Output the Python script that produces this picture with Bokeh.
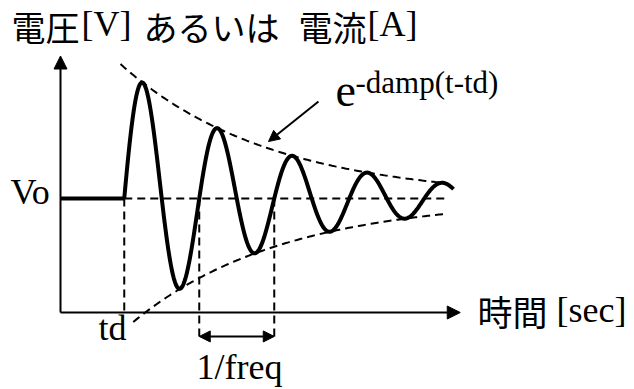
import numpy as np
from bokeh.plotting import figure
from bokeh.models import Range1d, Arrow, NormalHead, Label
from bokeh.embed import file_html
from bokeh.resources import INLINE

# ---- waveform parameters ----
Vo = 1.0          # offset level
td = 0.85         # delay time
freq = 1.0        # frequency (period = 1/freq)
damp = 0.5        # damping factor
amp = 1.15        # amplitude at t = td
t_end = 5.24      # end of drawn waveform
x_axis_end = 5.33
y_axis_top = 2.25
env_start_upper = -0.05   # envelope start relative to td
env_start_lower = 0.12
env_stop = 4.3
period_arrow_y = -0.21

# labels
title_parts = ["電圧", "[V]", "あるいは", "電流", "[A]"]
xlabel_parts = ["時間", "[sec]"]
vo_label = "Vo"
td_label = "td"
freq_label = "1/freq"
env_label_base = "e"
env_label_sup = "-damp(t-td)"

W, H = 634, 389

# page-pixel helpers (for label placement only)
def X(px):
    return (px - 60) / 75.0

def Y(py):
    return (312 - py) / 114.0

CJK = "'Noto Sans CJK JP', sans-serif"
SERIF = "'Liberation Serif', 'Times New Roman', serif"

p = figure(width=W, height=H, x_range=Range1d(X(0), X(W)),
           y_range=Range1d(Y(H), Y(0)), output_backend="svg",
           toolbar_location=None, min_border=0,
           x_axis_type=None, y_axis_type=None)
p.grid.visible = False
p.outline_line_color = None
p.background_fill_color = "white"
p.border_fill_color = "white"

# axes with arrows
p.add_layout(Arrow(end=NormalHead(size=13, fill_color="black", line_color="black", line_width=1),
                   x_start=0, y_start=0, x_end=0, y_end=y_axis_top, line_width=2, line_color="black"))
p.add_layout(Arrow(end=NormalHead(size=13, fill_color="black", line_color="black", line_width=1),
                   x_start=0, y_start=0, x_end=x_axis_end, y_end=0, line_width=2, line_color="black"))

dash = "8 5"
# Vo dashed reference
p.line([td, td + env_stop + 0.02], [Vo, Vo], line_color="black", line_width=2, line_dash=dash)
# td vertical
p.line([td, td], [Vo, 0], line_color="black", line_width=2, line_dash=dash)
# period verticals
for k in (1, 2):
    xk = td + k / freq
    p.line([xk, xk], [Vo, period_arrow_y], line_color="black", line_width=2, line_dash=dash)

# envelopes
tu = np.linspace(td + env_start_upper, td + env_stop, 200)
tl = np.linspace(td + env_start_lower, td + env_stop, 200)
p.line(tu, Vo + amp * np.exp(-damp * (tu - td)), line_color="black", line_width=2, line_dash=dash)
p.line(tl, Vo - amp * np.exp(-damp * (tl - td)), line_color="black", line_width=2, line_dash=dash)

# waveform
p.line([0, td], [Vo, Vo], line_color="black", line_width=4)
t = np.linspace(td, t_end, 600)
v = Vo + amp * np.exp(-damp * (t - td)) * np.sin(2 * np.pi * freq * (t - td))
p.line(t, v, line_color="black", line_width=4, line_join="round")

# period double arrow
p.add_layout(Arrow(start=NormalHead(size=11, fill_color="black", line_color="black", line_width=1),
                   end=NormalHead(size=11, fill_color="black", line_color="black", line_width=1),
                   x_start=td + 1 / freq, y_start=period_arrow_y,
                   x_end=td + 2 / freq, y_end=period_arrow_y, line_width=2, line_color="black"))

# arrow pointing at envelope
p.add_layout(Arrow(end=NormalHead(size=11, fill_color="black", line_color="black", line_width=1),
                   x_start=X(318), y_start=Y(101), x_end=X(268), y_end=Y(141),
                   line_width=2, line_color="black"))

def lab(px, base, text, font, size, align="left"):
    # shift so that the glyph baseline lands on `base` (page pixels)
    py = base - 0.42 * size
    p.add_layout(Label(x=X(px), y=Y(py), text=text, text_font=font,
                       text_font_size=f"{size}px", text_align=align,
                       text_baseline="alphabetic", text_color="black"))

# title
title_x = [11, 81, 143, 298, 367]
title_f = [CJK, SERIF, CJK, CJK, SERIF]
for txt, px, f in zip(title_parts, title_x, title_f):
    if f == CJK:
        lab(px, 40, txt, f, 34)
    else:
        lab(px, 39, txt, f, 36)

# x label
lab(477, 325, xlabel_parts[0], CJK, 35)
lab(556, 325, xlabel_parts[1], SERIF, 36)

lab(10, 207, vo_label, SERIF, 36)
lab(126, 343, td_label, SERIF, 36, align="right")
lab(196, 382, freq_label, SERIF, 36)
lab(335, 109, env_label_base, SERIF, 46)
lab(355, 95, env_label_sup, SERIF, 31)

open("out.html", "w").write(file_html(p, INLINE))
